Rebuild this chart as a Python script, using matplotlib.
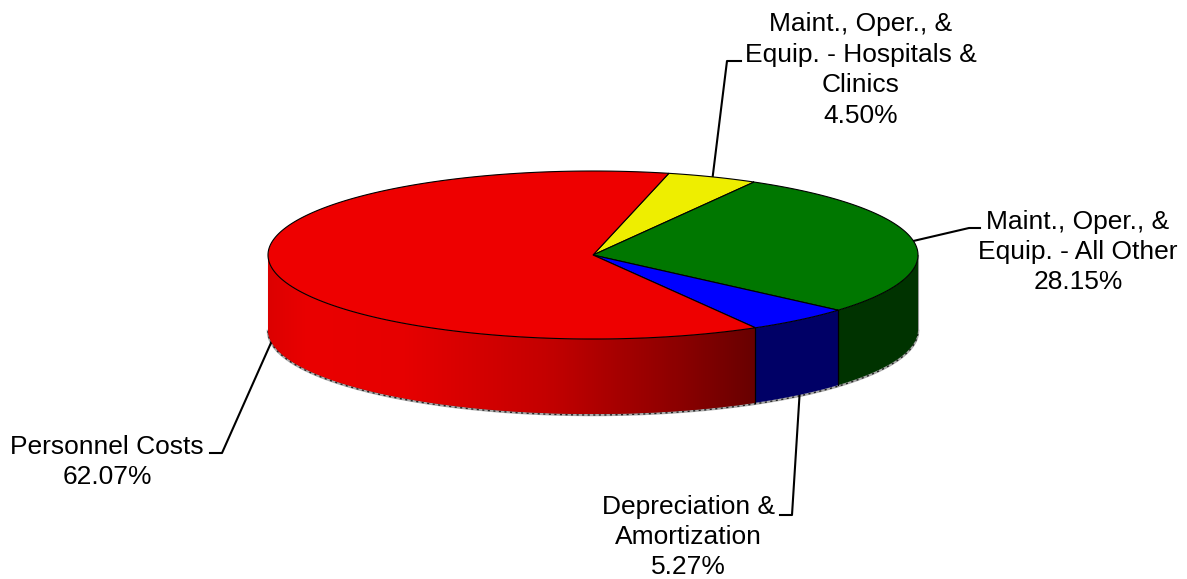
import numpy as np
import matplotlib
matplotlib.use('Agg')
import matplotlib.pyplot as plt
from matplotlib.colors import LinearSegmentedColormap
plt.rcParams['font.family'] = ['Liberation Sans', 'DejaVu Sans']

# Slices, clockwise from the start angle
labels = ['Maint., Oper., &\nEquip. - Hospitals &\nClinics\n4.50%',
          'Maint., Oper., &\nEquip. - All Other\n28.15%',
          'Depreciation &\nAmortization\n5.27%',
          'Personnel Costs\n62.07%']
values = [4.50, 28.15, 5.27, 62.07]
top_colors = ['#EEEE00', '#007700', '#0000FF', '#EE0000']
side_colors = ['#666600', '#003300', '#000066', '#660000']

# Pie geometry in pixels
cx, cy = 593, 255
rx, ry = 325, 84
depth = 75
start = 76.5

def px(t):
    return cx + rx*np.cos(np.radians(t))

def py(t, drop=0):
    return cy - ry*np.sin(np.radians(t)) + drop

fig = plt.figure(figsize=(11.87, 5.79), dpi=100)
ax = fig.add_axes([0, 0, 1, 1])

shares = np.array(values)/sum(values)*360
ends = start - np.cumsum(shares)
starts = ends + shares

# Red side shading goes by horizontal position
red_side = LinearSegmentedColormap.from_list('red_side',
    [(0, '#DC0000'), (0.08, '#EA0000'), (0.28, '#E60000'), (0.57, '#C40000'),
     (0.8, '#950000'), (1, '#680000')])

# Side walls, only the front half of the wall can be seen
for t0, t1, col in zip(starts, ends, side_colors):
    for shift in (0, -360, 360):
        a = np.linspace(t1, t0, 400) + shift
        a = a[(a >= 180) & (a <= 360)]
        if len(a) < 2:
            continue
        xs = np.r_[px(a), px(a[::-1])]
        ys = np.r_[py(a), py(a[::-1], depth)]
        wall = ax.fill(xs, ys, color=col, lw=0, zorder=2)[0]
        if top_colors[side_colors.index(col)] == '#EE0000':
            grad = np.linspace(0, 1, 512).reshape(1, -1)
            im = ax.imshow(grad, cmap=red_side, extent=[xs.min(), xs.max(), ys.max(), ys.min()],
                           aspect='auto', zorder=2.5)
            im.set_clip_path(wall)
        for t in (a[0], a[-1]):
            if 181 < t < 359:
                ax.plot([px(t)]*2, [py(t), py(t, depth)], color='black', lw=0.8, zorder=3)

# Bottom rim, grey with a dotted black edge
rim = np.linspace(180, 360, 300)
ax.plot(px(rim), py(rim, depth+1), color='#AAAAAA', lw=1.8, zorder=1)
ax.plot(px(rim), py(rim, depth+1), color='#222222', lw=1.0, ls=(0, (1.5, 2.5)), zorder=1)
for t in (180, 360):
    ax.plot([px(t)]*2, [py(t), py(t, depth)], color='#999999', lw=0.8, zorder=1)

# Top face
for t0, t1, col in zip(starts, ends, top_colors):
    a = np.linspace(t0, t1, 200)
    ax.fill(np.r_[cx, px(a)], np.r_[cy, py(a)], facecolor=col, edgecolor='black', lw=0.8, zorder=4)

# Leader lines start at the middle of each slice, on the rim that can be seen
mids = (starts + ends)/2
tails = [(741, 61), (980, 228), (780, 515), (210, 453)]
knees = [(727, 61), (969, 228), (792, 515), (222, 453)]
text_pos = [(861, 70), (1078, 252), (688, 537), (107, 462)]
for i, (label, mid) in enumerate(zip(labels, mids)):
    drop = depth if np.sin(np.radians(mid)) < 0 else 0
    x0, y0 = px(mid), py(mid, drop)
    ax.plot([tails[i][0], knees[i][0], x0], [tails[i][1], knees[i][1], y0],
            color='black', lw=1.5, zorder=1.5)
    ax.text(text_pos[i][0], text_pos[i][1], label, ha='center', va='center',
            fontsize=19, linespacing=1.34, color='black', zorder=6)

ax.set_xlim(0, 1187)
ax.set_ylim(579, 0)
ax.axis('off')
plt.savefig('out.png', dpi=100)
